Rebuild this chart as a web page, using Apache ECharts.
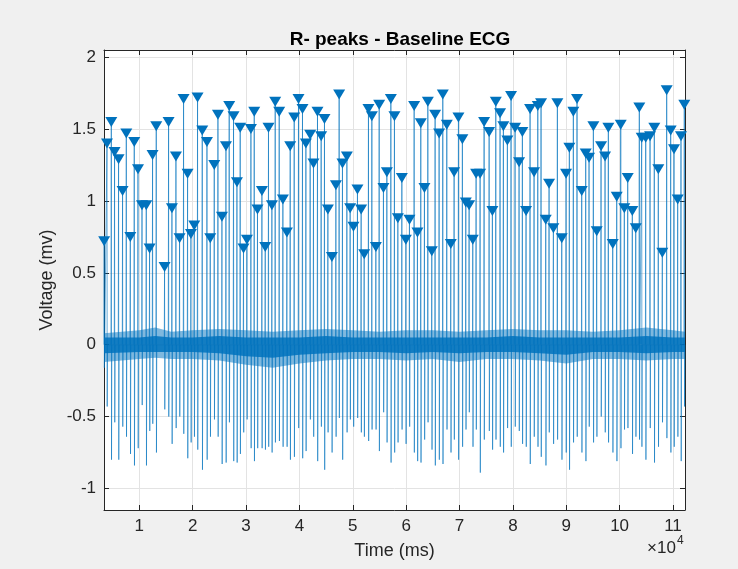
<!DOCTYPE html>
<html>
<head>
<meta charset="UTF-8">
<title>R- peaks - Baseline ECG</title>
<script src="https://cdn.jsdelivr.net/npm/echarts@6/dist/echarts.min.js"></script>
<style>
  html, body { margin: 0; padding: 0; background: #f0f0f0; }
  #chart { width: 738px; height: 569px; }
</style>
</head>
<body>
<div id="chart"></div>
<script>
// R peak times (ms), read from the triangles
var peakTimes = [
  3420, 3950, 4760, 5370, 6120, 6870, 7570, 8320, 9060, 9760, 10510, 11310, 11930, 12490, 13180, 14740, 15490, 16120, 16870, 17550, 18300, 19050, 19680, 20300, 20920,
  21800, 22680, 23300, 24050, 24740, 25490, 26240, 26850, 27660, 28300, 28910, 29530, 30170, 30920, 31540, 32150, 32980, 33600, 34210, 34850, 35470, 36220, 36910, 37660, 38280,
  39030, 39830, 40580, 41220, 42020, 42640, 43390, 44080, 44700, 45340, 46090, 46840, 47450, 48070, 48900, 49510, 50130, 50880, 51570, 52140, 52940, 53580, 54330, 54950, 55750, 56390,
  57140, 57810, 58450, 59200, 59950, 60620, 61500, 62120, 62750, 63430, 64070, 64810, 65430, 66180, 66870, 67620, 68370, 68990, 69800, 70540, 71180, 71800, 72490, 73110, 73860, 74610,
  75550, 76160, 76800, 77600, 78220, 78970, 79660, 80410, 81160, 81780, 82470, 83220, 83970, 84670, 85280, 86160, 86780, 87590, 88340, 89160, 89960, 90580, 91330, 92020,
  92900, 93650, 94270, 95080, 95710, 96520, 97270, 97890, 98710, 99460, 100210, 100880, 101520, 102380, 103020, 103690, 104140, 104890, 105700, 106500, 107250, 108000, 108820, 109570, 110190, 110880, 111500, 112120
];
// R peak heights (mv)
var peakVolts = [
  0.72, 1.40, 1.55, 1.34, 1.29, 1.07, 1.47, 0.75, 1.41, 1.22, 0.97, 0.97, 0.67, 1.32, 1.52, 0.54, 1.55, 0.95, 1.31, 0.74, 1.71, 1.19, 0.77, 0.83, 1.72,
  1.49, 1.41, 0.74, 1.25, 1.60, 0.89, 1.38, 1.66, 1.59, 1.13, 1.51, 0.67, 0.73, 1.50, 1.62, 0.94, 1.07, 0.68, 1.51, 0.97, 1.69, 1.62, 1.01, 0.78, 1.38,
  1.58, 1.71, 1.64, 1.40, 1.46, 1.26, 1.62, 1.45, 1.57, 0.94, 0.61, 1.11, 1.74, 1.26, 1.31, 0.95, 0.82, 1.08, 0.94, 0.63, 1.64, 1.59, 0.68, 1.67, 1.09, 1.20,
  1.71, 1.59, 0.88, 1.16, 0.73, 0.87, 1.66, 0.78, 1.54, 1.09, 1.69, 0.65, 1.60, 1.47, 1.74, 1.53, 0.70, 1.20, 1.58, 1.43, 0.99, 0.97, 0.73, 1.19, 1.19, 1.55,
  1.48, 0.93, 1.69, 1.61, 1.52, 1.42, 1.73, 1.51, 1.27, 1.48, 0.93, 1.64, 1.20, 1.66, 1.68, 0.87, 1.12, 0.81, 1.68, 0.74, 1.19, 1.37, 1.62, 1.71,
  1.07, 1.33, 1.30, 1.52, 0.79, 1.38, 1.31, 1.51, 0.70, 1.03, 1.53, 0.95, 1.16, 0.93, 0.81, 1.65, 1.44, 1.44, 1.45, 1.51, 1.22, 0.64, 1.77, 1.49, 1.36, 1.01, 1.45, 1.67
];
// S wave depths (mv) following each R peak
var troughVolts = [
  -0.16, -0.43, -0.80, -0.54, -0.80, -0.57, -0.64, -0.76, -0.84, -0.72, -0.42, -0.84, -0.60, -0.55, -0.75, -0.45, -0.50, -0.69, -0.58, -0.50,
  -0.62, -0.79, -0.68, -0.64, -0.73, -0.87, -0.80, -0.64, -0.52, -0.64, -0.83, -0.82, -0.54, -0.81, -0.82, -0.76, -0.61, -0.52, -0.72, -0.81,
  -0.72, -0.72, -0.73, -0.71, -0.75, -0.68, -0.67, -0.71, -0.71, -0.80, -0.78, -0.58, -0.79, -0.74, -0.52, -0.64, -0.81, -0.57, -0.87, -0.61,
  -0.75, -0.64, -0.51, -0.80, -0.61, -0.52, -0.57, -0.51, -0.61, -0.64, -0.67, -0.59, -0.59, -0.74, -0.47, -0.68,
  -0.82, -0.75, -0.68, -0.59, -0.69, -0.57, -0.75, -0.81, -0.82, -0.66, -0.54, -0.73, -0.84, -0.80, -0.83, -0.59, -0.75, -0.66, -0.80, -0.71,
  -0.59, -0.47, -0.71, -0.59, -0.89, -0.66, -0.60, -0.73, -0.66, -0.71, -0.75, -0.58, -0.71, -0.57, -0.60, -0.69, -0.71, -0.83, -0.64, -0.71,
  -0.78, -0.84, -0.61, -0.69, -0.66, -0.80, -0.75, -0.87, -0.68, -0.64, -0.75, -0.81, -0.57, -0.68, -0.64, -0.50, -0.61, -0.68, -0.75, -0.81,
  -0.72, -0.59, -0.58, -0.76, -0.64, -0.66, -0.71, -0.80, -0.58, -0.82, -0.71, -0.54, -0.65, -0.75, -0.71, -0.64, -0.81, -0.43
];
// noise band envelope around the baseline (mv)
var bandTimes    = [3390, 10000, 13000, 16000, 20000, 25000, 30000, 35000, 40000, 45000, 50000, 55000, 60000, 65000, 70000, 75000, 80000, 85000, 90000, 95000, 100000, 105000, 110000, 112250];
var bandOuterTop = [0.08, 0.10, 0.12, 0.09, 0.10, 0.11, 0.10, 0.09, 0.10, 0.11, 0.10, 0.09, 0.10, 0.10, 0.09, 0.10, 0.11, 0.10, 0.10, 0.09, 0.10, 0.12, 0.10, 0.09];
var bandOuterLow = [-0.12, -0.10, -0.09, -0.10, -0.10, -0.11, -0.14, -0.16, -0.13, -0.11, -0.10, -0.10, -0.11, -0.10, -0.12, -0.10, -0.10, -0.11, -0.13, -0.10, -0.10, -0.11, -0.10, -0.10];
var bandInnerTop = [0.05, 0.05, 0.06, 0.05, 0.05, 0.06, 0.05, 0.05, 0.05, 0.06, 0.05, 0.05, 0.05, 0.05, 0.05, 0.05, 0.06, 0.05, 0.05, 0.05, 0.05, 0.06, 0.05, 0.05];
var bandInnerLow = [-0.06, -0.05, -0.05, -0.05, -0.05, -0.06, -0.08, -0.09, -0.07, -0.06, -0.05, -0.05, -0.06, -0.05, -0.06, -0.05, -0.05, -0.06, -0.07, -0.05, -0.05, -0.06, -0.05, -0.05];

var xMin = 3390, xMax = 112250;
var yMin = -1.15, yMax = 2.05;
var blue = '#0072BD';
var font = 'Liberation Sans, Arial, sans-serif';

var n = Math.min(peakTimes.length, peakVolts.length, troughVolts.length);
var ecg = [[xMin, 0]];
var peaks = [];
for (var i = 0; i < n; i++) {
  ecg.push([peakTimes[i] - 60, 0]);
  ecg.push([peakTimes[i], peakVolts[i]]);
  ecg.push([peakTimes[i] + 40, troughVolts[i]]);
  ecg.push([peakTimes[i] + 100, 0]);
  peaks.push([peakTimes[i], peakVolts[i]]);
}
ecg.push([xMax, 0]);

function pairs(xs, ys) {
  var out = [];
  for (var k = 0; k < xs.length; k++) out.push([xs[k], ys[k]]);
  return out;
}
function band(ys, op) {
  return {
    type: 'line', data: pairs(bandTimes, ys), showSymbol: false, silent: true,
    lineStyle: { width: 0, opacity: 0 }, areaStyle: { color: blue, opacity: op }, z: 1
  };
}

var axisCol = '#262626';
function xAx(pos, labels) {
  return {
    type: 'value', position: pos, min: xMin, max: xMax, splitNumber: 11,
    axisLine: { show: true, onZero: false, lineStyle: { color: axisCol, width: 1 } },
    axisTick: { show: true, inside: true, length: 5, lineStyle: { color: axisCol } },
    splitLine: { show: labels, lineStyle: { color: '#e3e3e3', width: 1 } },
    axisLabel: {
      show: labels, color: axisCol, fontSize: 17, fontFamily: font, margin: 8,
      showMinLabel: false, showMaxLabel: false,
      formatter: function (v) { return v % 10000 === 0 ? String(v / 10000) : ''; }
    },
    name: labels ? 'Time (ms)' : '', nameLocation: 'middle', nameGap: 32,
    nameTextStyle: { color: axisCol, fontSize: 18, fontFamily: font }
  };
}
function yAx(pos, labels) {
  return {
    type: 'value', position: pos, min: yMin, max: yMax,
    axisLine: { show: true, onZero: false, lineStyle: { color: axisCol, width: 1 } },
    axisTick: { show: true, inside: true, length: 5, lineStyle: { color: axisCol } },
    splitLine: { show: labels, lineStyle: { color: '#e3e3e3', width: 1 } },
    axisLabel: {
      show: labels, color: axisCol, fontSize: 17, fontFamily: font, margin: 8,
      showMinLabel: false, showMaxLabel: false,
      formatter: function (v) { return Math.abs(v * 2 - Math.round(v * 2)) < 1e-9 ? String(v) : ''; }
    },
    name: labels ? 'Voltage (mv)' : '', nameLocation: 'middle', nameGap: 46, nameRotate: 90,
    nameTextStyle: { color: axisCol, fontSize: 18, fontFamily: font }
  };
}

var chart = echarts.init(document.getElementById('chart'));
chart.setOption({
  animation: false,
  backgroundColor: '#f0f0f0',
  title: {
    text: 'R- peaks - Baseline ECG', left: 395, top: 25, textAlign: 'center',
    textStyle: { color: '#000', fontSize: 19, fontWeight: 'bold', fontFamily: font }
  },
  grid: { left: 104, right: 53, top: 50, bottom: 59, show: true, backgroundColor: '#fff', borderWidth: 0 },
  xAxis: [xAx('bottom', true), xAx('top', false)],
  yAxis: [yAx('left', true), yAx('right', false)],
  graphic: [
    { type: 'text', x: 647, y: 540, style: { text: '\u00d710', fill: axisCol, font: '17px ' + font } },
    { type: 'text', x: 677, y: 535, style: { text: '4', fill: axisCol, font: '12px ' + font } }
  ],
  series: [
    band(bandOuterTop, 0.5), band(bandOuterLow, 0.5),
    band(bandInnerTop, 0.85), band(bandInnerLow, 0.85),
    {
      type: 'line', data: ecg, showSymbol: false, sampling: false, silent: true, z: 2,
      lineStyle: { color: blue, width: 0.8, opacity: 0.75 }
    },
    {
      type: 'scatter', data: peaks, z: 3,
      symbol: 'path://M0,0 L12,0 L6,10 Z', symbolSize: [12, 10],
      itemStyle: { color: blue, opacity: 1 }
    }
  ]
});
</script>
</body>
</html>
